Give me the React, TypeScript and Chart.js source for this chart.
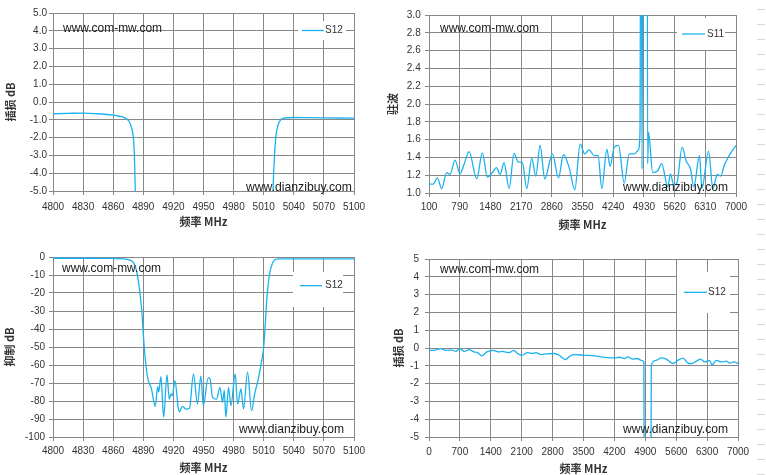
import React, { useEffect, useRef } from "react";
import { Chart, registerables } from "chart.js";

Chart.register(...registerables);

// ---------- data ----------
// Chart 1: insertion loss (S12), 4800-5100 MHz
const ilFreq = [4800, 4815, 4830, 4845, 4860, 4866, 4870, 4874, 4876.5, 4878, 4880.3, 4881.3, 4882, 4883, 4950, 5018, 5019.3, 5020.7, 5022, 5024, 5026.6, 5030, 5040, 5055, 5070, 5085, 5100];
const ilVals = [-0.66, -0.64, -0.62, -0.66, -0.74, -0.8, -0.85, -0.97, -1.15, -1.4, -2.15, -3.3, -5, -9, null, -9, -5, -3.1, -2, -1.35, -1.02, -0.9, -0.87, -0.88, -0.89, -0.9, -0.91];

// Chart 2: VSWR (S11), 100-7000 MHz
const vswrFreq = [100, 197, 287, 385, 497, 572, 685, 797, 887, 1000, 1172, 1300, 1412, 1525, 1615, 1697, 1787, 1900, 2012, 2102, 2200, 2297, 2410, 2500, 2597, 2702, 2875, 3010, 3122, 3250, 3377, 3497, 3600, 3700, 3815, 3900, 3984, 4097, 4172, 4263, 4360, 4488, 4601, 4714, 4800, 4842, 4865, 4888, 4915, 5000, 5014, 5034, 5127, 5240, 5330, 5466, 5526, 5601, 5676, 5789, 5879, 5977, 6052, 6180, 6233, 6383, 6481, 6579, 6654, 6744, 6895, 7000];
const vswrVals = [1.10, 1.10, 1.17, 1.05, 1.23, 1.21, 1.37, 1.215, 1.32, 1.465, 1.16, 1.45, 1.18, 1.23, 1.285, 1.21, 1.34, 1.05, 1.445, 1.35, 1.34, 1.05, 1.39, 1.19, 1.535, 1.16, 1.44, 1.17, 1.43, 1.285, 1.035, 1.55, 1.44, 1.485, 1.42, 1.42, 1.05, 1.49, 1.30, 1.515, 1.535, 1.11, 1.44, 1.44, 1.48, 1.67, 6, 1.27, 6, 6, 1.33, 1.68, 1.23, 1.25, 1.33, 1.07, 1.215, 1.09, 1.12, 1.515, 1.36, 1.27, 1.07, 1.42, 1.05, 1.47, 1.05, 1.21, 1.19, 1.32, 1.46, 1.535];

// Chart 3: rejection (S12), 4800-5100 MHz
const rejFreq = [4800, 4820, 4840, 4860, 4870, 4876, 4880, 4883, 4886, 4888.5, 4890.4, 4892.4, 4894.7, 4898, 4902, 4904.3, 4905.3, 4907.6, 4910.3, 4913.6, 4915.9, 4917.6, 4919, 4921.5, 4924.9, 4926, 4929, 4932.5, 4936, 4940, 4944, 4947.4, 4949.8, 4954.7, 4956.7, 4959, 4963, 4966.4, 4969, 4970.7, 4972.3, 4975, 4977.3, 4981.6, 4984, 4987.3, 4989.9, 4993.9, 4997.9, 5001, 5004.3, 5007.6, 5010, 5011.6, 5013.3, 5016, 5018.6, 5021, 5026, 5040, 5070, 5100];
const rejVals = [-0.7, -0.7, -0.7, -0.8, -1.0, -1.6, -3, -7, -17, -30, -46, -59, -68, -73, -83, -72, -75, -66.5, -89, -65.5, -79, -76, -77, -68.7, -84, -86, -83, -84.5, -84, -65, -81.7, -66, -82.6, -67, -68, -78, -79, -72.4, -80.7, -74, -89, -72.4, -82.6, -65, -81.7, -73.3, -84.4, -64, -85.4, -76, -68.5, -59, -50, -37, -22, -9, -3.7, -1.5, -1.0, -1.0, -1.0, -1.0];

// Chart 4: wideband insertion loss (S12), 0-7000 MHz
const wideFreq = [0, 114, 265, 379, 530, 605, 700, 795, 908, 1022, 1098, 1196, 1310, 1438, 1590, 1665, 1817, 1915, 2006, 2100, 2233, 2347, 2422, 2536, 2650, 2840, 2952, 3089, 3202, 3293, 3520, 3747, 3899, 4050, 4201, 4315, 4428, 4504, 4618, 4717, 4807, 4868, 4885, 4950, 5014, 5036, 5148, 5261, 5375, 5526, 5640, 5753, 5867, 5942, 6056, 6154, 6245, 6359, 6412, 6510, 6624, 6738, 6813, 6911, 7000];
const wideVals = [-0.13, -0.13, -0.04, -0.13, -0.12, -0.19, -0.04, -0.19, -0.09, -0.22, -0.26, -0.44, -0.22, -0.13, -0.22, -0.19, -0.26, -0.13, -0.31, -0.41, -0.26, -0.31, -0.26, -0.37, -0.33, -0.31, -0.41, -0.65, -0.44, -0.37, -0.41, -0.44, -0.5, -0.54, -0.55, -0.52, -0.59, -0.5, -0.63, -0.59, -0.69, -0.78, -20, null, -20, -0.96, -0.69, -0.55, -0.63, -0.87, -0.69, -0.57, -0.85, -0.88, -0.74, -0.63, -0.78, -0.69, -0.96, -0.69, -0.78, -0.74, -0.85, -0.78, -0.87];

// axis texts
const xTitle = "频率 MHz";
const yTitles = ["插损 dB", "驻波", "抑制 dB", "插损 dB"];
const seriesNames = ["S12", "S11", "S12", "S12"];
const watermarkTop = "www.com-mw.com";
const watermarkBottom = "www.dianzibuy.com";

// ---------- styles ----------
const LINE = "#1ab2ee";
const GRID = "#878787";
const TEXT = "#333333";
const TICK_FONT = { family: "'Liberation Sans', Arial, sans-serif", size: 10 };
const TITLE_FONT = { family: "'Noto Sans CJK SC', sans-serif", size: 11, weight: "bold" as const };

const overlayPlugin = {
  id: "overlay",
  afterDatasetsDraw(chart: any, _args: any, opts: any) {
    const ctx: CanvasRenderingContext2D = chart.ctx;
    ctx.save();
    // legend
    const lg = opts.legend;
    if (lg) {
      ctx.fillStyle = "#ffffff";
      ctx.fillRect(lg.bx, lg.by, lg.bw, lg.bh);
      ctx.strokeStyle = LINE;
      ctx.lineWidth = 1.3;
      ctx.beginPath();
      ctx.moveTo(lg.lx1, lg.ly);
      ctx.lineTo(lg.lx2, lg.ly);
      ctx.stroke();
      ctx.fillStyle = TEXT;
      ctx.font = "10px 'Liberation Sans', Arial, sans-serif";
      ctx.textBaseline = "middle";
      ctx.textAlign = "left";
      ctx.fillText(chart.data.datasets[0].label, lg.tx, lg.ly);
    }
    // watermarks
    ctx.fillStyle = "#1a1a1a";
    ctx.textBaseline = "alphabetic";
    ctx.textAlign = "left";
    ctx.font = "13px 'Liberation Sans', Arial, sans-serif";
    for (const m of opts.marks || []) {
      ctx.fillText(m.text, m.x, m.y, m.w);
    }
    ctx.restore();
  },
};

type Spec = {
  left: number;
  top: number;
  width: number;
  height: number;
  xs: number[];
  ys: (number | null)[];
  label: string;
  yTitle: string;
  xMin: number;
  xMax: number;
  xStep: number;
  yMin: number;
  yMax: number;
  yStep: number;
  yDecimals: number;
  yAxisW: number;
  xAxisH: number;
  pad: { top: number; right: number; left: number; bottom: number };
  xTickPad: number;
  yTickPad: number;
  xTitlePad: number;
  yTitlePad: number;
  legend: any;
  marks: any[];
};

function ChartPanel({ spec }: { spec: Spec }) {
  const ref = useRef<HTMLCanvasElement | null>(null);
  useEffect(() => {
    if (!ref.current) return;
    const s = spec;
    const chart = new Chart(ref.current, {
      type: "line",
      data: {
        datasets: [
          {
            label: s.label,
            data: s.xs.map((x, i) => ({ x, y: s.ys[i] })) as any,
            borderColor: LINE,
            borderWidth: 1.3,
            pointRadius: 0,
            fill: false,
            tension: 0.4,
            cubicInterpolationMode: "monotone",
            spanGaps: false,
          },
        ],
      },
      options: {
        animation: false,
        responsive: false,
        devicePixelRatio: 1,
        layout: { padding: s.pad },
        plugins: {
          legend: { display: false },
          tooltip: { enabled: false },
          overlay: { legend: s.legend, marks: s.marks },
        } as any,
        scales: {
          x: {
            type: "linear",
            min: s.xMin,
            max: s.xMax,
            afterFit: (sc: any) => {
              sc.height = s.xAxisH;
            },
            ticks: {
              stepSize: s.xStep,
              autoSkip: false,
              maxRotation: 0,
              minRotation: 0,
              padding: s.xTickPad,
              color: TEXT,
              font: TICK_FONT,
              callback: (v: any) => String(v),
            },
            grid: { color: GRID, tickLength: 4, lineWidth: 1 },
            border: { color: GRID },
            title: {
              display: true,
              text: xTitle,
              color: TEXT,
              font: TITLE_FONT,
              padding: { top: 0, bottom: s.xTitlePad },
            },
          },
          y: {
            type: "linear",
            min: s.yMin,
            max: s.yMax,
            afterFit: (sc: any) => {
              sc.width = s.yAxisW;
            },
            ticks: {
              stepSize: s.yStep,
              autoSkip: false,
              padding: s.yTickPad,
              color: TEXT,
              font: TICK_FONT,
              callback: (v: any) => Number(v).toFixed(s.yDecimals),
            },
            grid: { color: GRID, tickLength: 4, lineWidth: 1 },
            border: { color: GRID },
            title: {
              display: true,
              text: s.yTitle,
              color: TEXT,
              font: TITLE_FONT,
              padding: { top: s.yTitlePad, bottom: 0 },
            },
          },
        },
      },
      plugins: [overlayPlugin],
    });
    return () => chart.destroy();
  }, [spec]);
  return (
    <canvas
      ref={ref}
      width={spec.width}
      height={spec.height}
      style={{
        position: "absolute",
        left: spec.left,
        top: spec.top,
        width: spec.width,
        height: spec.height,
      }}
    />
  );
}

const specs: Spec[] = [
  {
    left: 0, top: 0, width: 380, height: 235,
    xs: ilFreq, ys: ilVals, label: seriesNames[0], yTitle: yTitles[0],
    xMin: 4800, xMax: 5100, xStep: 30, yMin: -5, yMax: 5, yStep: 1, yDecimals: 1,
    yAxisW: 53, xAxisH: 44, pad: { top: 13, right: 26, left: 0, bottom: 0 },
    xTickPad: 6, yTickPad: 2, xTitlePad: 6.4, yTitlePad: 4.4,
    legend: { bx: 298, by: 21, bw: 48, bh: 19, lx1: 302, lx2: 324, ly: 30.5, tx: 325 },
    marks: [
      { text: watermarkTop, x: 63, y: 32, w: 99 },
      { text: watermarkBottom, x: 246, y: 191, w: 106 },
    ],
  },
  {
    left: 380, top: 0, width: 386, height: 235,
    xs: vswrFreq, ys: vswrVals, label: seriesNames[1], yTitle: yTitles[1],
    xMin: 100, xMax: 7000, xStep: 690, yMin: 1, yMax: 3, yStep: 0.2, yDecimals: 1,
    yAxisW: 49, xAxisH: 42, pad: { top: 15, right: 30, left: 0, bottom: 0 },
    xTickPad: 4.5, yTickPad: 4.3, xTitlePad: 3.4, yTitlePad: 6.7,
    legend: { bx: 297, by: 18, bw: 48, bh: 32, lx1: 302, lx2: 325, ly: 34, tx: 327 },
    marks: [
      { text: watermarkTop, x: 60, y: 32, w: 99 },
      { text: watermarkBottom, x: 243, y: 191, w: 105 },
    ],
  },
  {
    left: 0, top: 240, width: 380, height: 235,
    xs: rejFreq, ys: rejVals, label: seriesNames[2], yTitle: yTitles[2],
    xMin: 4800, xMax: 5100, xStep: 30, yMin: -100, yMax: 0, yStep: 10, yDecimals: 0,
    yAxisW: 53, xAxisH: 38, pad: { top: 17, right: 26, left: 0, bottom: 0 },
    xTickPad: 4.5, yTickPad: 4, xTitlePad: 0.4, yTitlePad: 3.4,
    legend: { bx: 293, by: 32, bw: 50, bh: 35, lx1: 300, lx2: 322, ly: 45.7, tx: 325 },
    marks: [
      { text: watermarkTop, x: 62, y: 31.7, w: 99 },
      { text: watermarkBottom, x: 239, y: 192.7, w: 105 },
    ],
  },
  {
    left: 380, top: 240, width: 386, height: 235,
    xs: wideFreq, ys: wideVals, label: seriesNames[3], yTitle: yTitles[3],
    xMin: 0, xMax: 7000, xStep: 700, yMin: -5, yMax: 5, yStep: 1, yDecimals: 0,
    yAxisW: 49, xAxisH: 38, pad: { top: 19, right: 28, left: 0, bottom: 0 },
    xTickPad: 5.5, yTickPad: 6, xTitlePad: 0, yTitlePad: 12.4,
    legend: { bx: 297, by: 32, bw: 53, bh: 41, lx1: 304, lx2: 327, ly: 52.3, tx: 328 },
    marks: [
      { text: watermarkTop, x: 60, y: 32.7, w: 99 },
      { text: watermarkBottom, x: 243, y: 192.7, w: 105 },
    ],
  },
];

export default function App() {
  return (
    <div
      style={{
        position: "absolute",
        left: 0,
        top: 0,
        width: 766,
        height: 475,
        background: "#ffffff",
        overflow: "hidden",
      }}
    >
      {specs.map((s, i) => (
        <ChartPanel key={i} spec={s} />
      ))}
      <div
        style={{
          position: "absolute",
          left: 757,
          top: 0,
          width: 8,
          height: 475,
          backgroundImage:
            "repeating-linear-gradient(to bottom, transparent 0px, transparent 9px, #d9d9d9 9px, #d9d9d9 10px, transparent 10px, transparent 15px)",
        }}
      />
    </div>
  );
}
